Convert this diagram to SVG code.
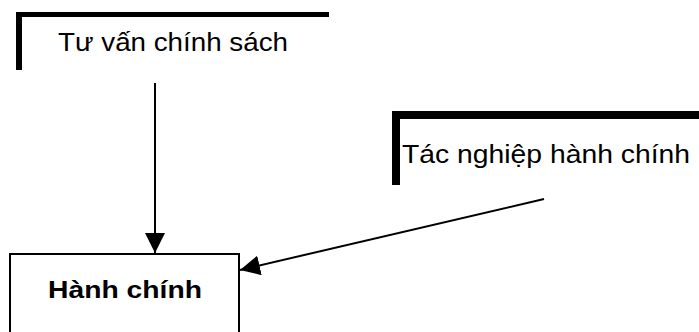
<svg xmlns="http://www.w3.org/2000/svg" width="699" height="332" viewBox="0 0 699 332">
<style>
  .lbl{font-family:"Liberation Sans",Arial,sans-serif;font-size:25px;fill:#000}
  .bold{font-weight:bold;font-size:23px}
  .bar{fill:#000}
  .conn{stroke:#000;stroke-width:2;fill:none}
</style>
<defs>
  <marker id="ah" markerUnits="userSpaceOnUse" markerWidth="22" markerHeight="22" refX="20" refY="10" orient="auto">
    <path d="M0,0 L20,10 L0,20 Z" fill="#000"/>
  </marker>
</defs>
<rect width="699" height="332" fill="#fff"/>
<g id="tu-van">
  <rect class="bar" x="16" y="12" width="313" height="5"/>
  <rect class="bar" x="16" y="12" width="6" height="58"/>
  <text class="lbl" x="58" y="51" textLength="230" lengthAdjust="spacingAndGlyphs">Tư vấn chính sách</text>
</g>
<g id="tac-nghiep">
  <rect class="bar" x="392" y="111" width="307" height="8"/>
  <rect class="bar" x="392" y="111" width="8" height="74"/>
  <text class="lbl" x="402" y="163" textLength="288" lengthAdjust="spacingAndGlyphs">Tác nghiệp hành chính</text>
</g>
<g id="hanh-chinh">
  <rect x="10" y="254" width="229" height="100" fill="#fff" stroke="#000" stroke-width="2"/>
  <text class="lbl bold" x="48" y="298" textLength="154" lengthAdjust="spacingAndGlyphs">Hành chính</text>
</g>
<g id="connectors">
  <line class="conn" x1="155" y1="83" x2="155" y2="253" marker-end="url(#ah)"/>
  <line class="conn" x1="544" y1="199" x2="240" y2="270" marker-end="url(#ah)"/>
</g>
</svg>
